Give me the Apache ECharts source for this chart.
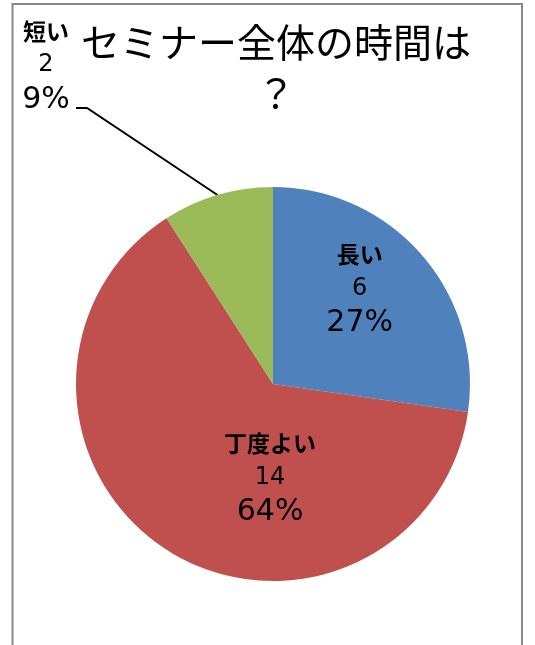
<!DOCTYPE html>
<html>
<head>
<meta charset="utf-8">
<script src="https://cdn.jsdelivr.net/npm/echarts@6/dist/echarts.min.js"></script>
<style>html,body{margin:0;padding:0;background:#fff;}#main{width:535px;height:645px;}</style>
</head>
<body>
<div id="main"></div>
<script>
const titleText = 'セミナー全体の時間は\n？';
const categories = ['長い', '丁度よい', '短い'];
const values = [6, 14, 2];
const colors = ['#4F81BD', '#C0504D', '#9BBB59'];

const chart = echarts.init(document.getElementById('main'), null, {renderer: 'canvas'});
const data = categories.map((c, i) => ({
  name: c,
  value: values[i],
  itemStyle: {color: colors[i]},
  label: {position: i === 2 ? 'outside' : 'inside'},
  labelLine: {show: i === 2}
}));

const option = {
  animation: false,
  backgroundColor: '#fff',
  title: {
    text: titleText,
    left: 276,
    top: 17,
    padding: 0,
    textAlign: 'center',
    textStyle: {fontFamily: 'Noto Sans CJK JP', fontSize: 39, fontWeight: 'normal', color: '#000', lineHeight: 51}
  },
  graphic: [{
    type: 'rect', shape: {x: 12.5, y: 4, width: 509.5, height: 700},
    style: {fill: null, stroke: '#888888', lineWidth: 2}, silent: true, z: 100
  }],
  series: [{
    type: 'pie',
    center: [273, 384],
    radius: 197,
    startAngle: 90,
    clockwise: true,
    percentPrecision: 0,
    data: data,
    label: {
      show: true,
      formatter: '{n|{b}}\n{v|{c}}\n{p|{d}%}',
      color: '#000',
      rich: {
        n: {fontFamily: 'Noto Sans CJK JP', fontSize: 23, fontWeight: 'bold', lineHeight: 34, color: '#000', align: 'center'},
        v: {fontFamily: 'DejaVu Sans', fontSize: 24, lineHeight: 34, color: '#000', align: 'center'},
        p: {fontFamily: 'DejaVu Sans', fontSize: 30, lineHeight: 36, color: '#000', align: 'center'}
      }
    },
    labelLine: {lineStyle: {color: '#000', width: 2}},
    labelLayout: function (params) {
      if (params.dataIndex === 0) return {dx: 10, dy: -28};
      if (params.dataIndex === 1) return {dx: 52, dy: 9};
      if (params.dataIndex === 2) {
        const p0 = params.labelLinePoints ? params.labelLinePoints[0] : [218, 196];
        const lx = 46, ly = 66;
        return {
          x: lx, y: ly, align: 'center', verticalAlign: 'middle',
          labelLinePoints: [p0, [lx + 41, ly + 42], [lx + 30, ly + 42]]
        };
      }
    }
  }]
};
chart.setOption(option);
</script>
</body>
</html>
